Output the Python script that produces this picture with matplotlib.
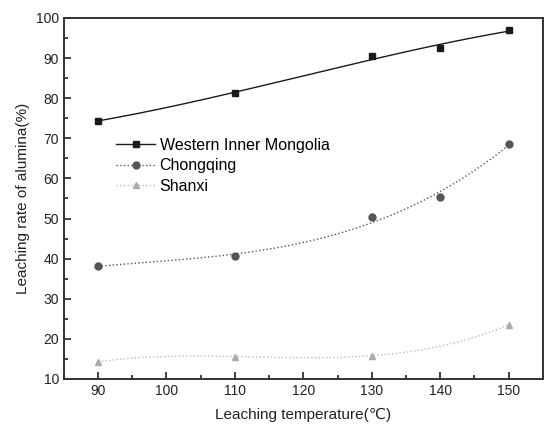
import numpy as np
import matplotlib
matplotlib.use("Agg")
import matplotlib.pyplot as plt
from matplotlib.ticker import MultipleLocator

plt.rcParams['font.family'] = ['Liberation Sans', 'DejaVu Sans']

# Data
temp_wim = [90, 110, 130, 140, 150]
rate_wim = [74.4, 81.2, 90.5, 92.5, 97.0]

temp_cq = [90, 110, 130, 140, 150]
rate_cq = [38.2, 40.7, 50.3, 55.3, 68.7]

temp_sx = [90, 110, 130, 150]
rate_sx = [14.3, 15.6, 15.8, 23.5]

fig = plt.figure(figsize=(5.45, 4.28), dpi=100)
ax = fig.add_axes([0.117, 0.1145, 0.879, 0.8435])

series = [
    (temp_wim, rate_wim, 's', '-', '#1a1a1a', '#1a1a1a', 3, 'Western Inner Mongolia'),
    (temp_cq, rate_cq, 'o', ':', '#555555', '#555555', 3, 'Chongqing'),
    (temp_sx, rate_sx, '^', ':', '#bbbbbb', '#aaaaaa', 3, 'Shanxi'),
]

for x, y, mk, ls, lc, mc, deg, lab in series:
    # smooth fitted curve through the points
    coef = np.polyfit(x, y, deg)
    xs = np.linspace(min(x), max(x), 200)
    ax.plot(xs, np.polyval(coef, xs), ls, color=lc, lw=1.0)
    ax.plot(x, y, mk, color=mc, ms=5, ls='none')
    # legend proxy
    ax.plot([], [], ls=ls, marker=mk, color=lc, mfc=mc, mec=mc, ms=5, lw=1.0, label=lab)

ax.set_xlim(85, 155)
ax.set_ylim(10, 100)
ax.xaxis.set_major_locator(MultipleLocator(10))
ax.xaxis.set_minor_locator(MultipleLocator(5))
ax.yaxis.set_major_locator(MultipleLocator(10))
ax.yaxis.set_minor_locator(MultipleLocator(5))
ax.tick_params(which='both', direction='in', labelsize=10, width=1.2, colors='#222222')
ax.tick_params(which='major', length=5)
ax.tick_params(which='minor', length=3)
for s in ax.spines.values():
    s.set_linewidth(1.4)
    s.set_color('#333333')

ax.set_xlabel('Leaching temperature(℃)', fontsize=11, color='#222222', labelpad=7)
ax.set_ylabel('Leaching rate of alumina(%)', fontsize=11, color='#222222', labelpad=4)

ax.legend(loc='upper left', bbox_to_anchor=(0.11, 0.668), frameon=False, fontsize=11.5,
          borderpad=0, borderaxespad=0,
          handlelength=2.4, handletextpad=0.3, labelspacing=0.35)

fig.savefig('out.png', dpi=100)
